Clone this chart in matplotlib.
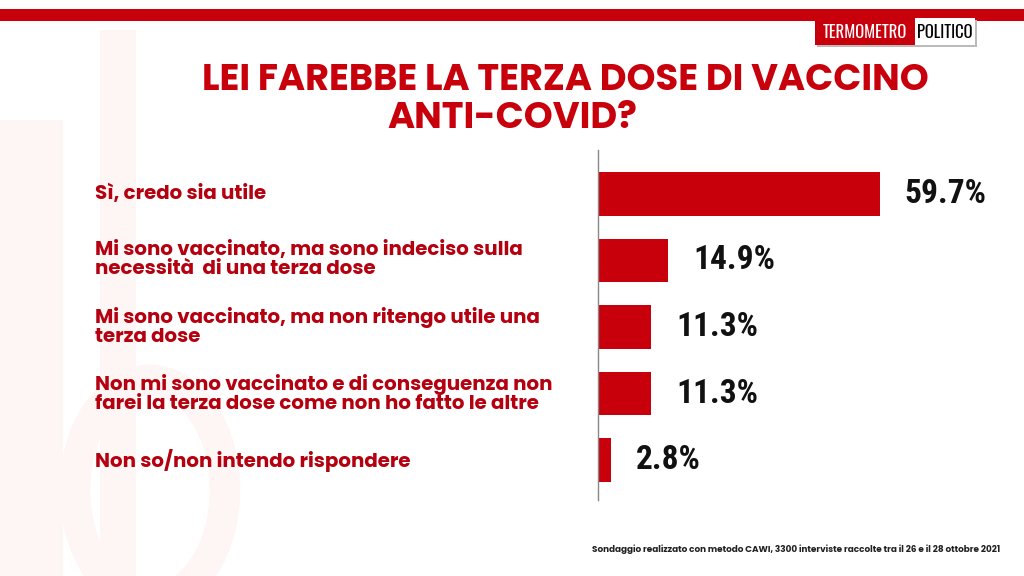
import matplotlib
matplotlib.use('Agg')
import matplotlib.pyplot as plt
from matplotlib.patches import Rectangle, Ellipse
from matplotlib.transforms import blended_transform_factory

RED = '#C8000C'
DARK_RED = '#B5000F'
MAIN = ['Poppins', 'Open Sans', 'DejaVu Sans']
NARROW = ['Roboto Condensed', 'Archivo Narrow', 'Asap Condensed', 'DejaVu Sans']
LOGO = ['Oswald', 'Bebas Neue', 'Roboto Condensed', 'DejaVu Sans']

categories = [
    'Sì, credo sia utile',
    'Mi sono vaccinato, ma sono indeciso sulla\nnecessità  di una terza dose',
    'Mi sono vaccinato, ma non ritengo utile una\nterza dose',
    'Non mi sono vaccinato e di conseguenza non\nfarei la terza dose come non ho fatto le altre',
    'Non so/non intendo rispondere',
]
values = [59.7, 14.9, 11.3, 11.3, 2.8]
value_labels = ['59.7%', '14.9%', '11.3%', '11.3%', '2.8%']

title_lines = ['LEI FAREBBE LA TERZA DOSE DI VACCINO', 'ANTI-COVID?']
footer = 'Sondaggio realizzato con metodo CAWI, 3300 interviste raccolte tra il 26 e il 28 ottobre 2021'

W, H = 1024, 576
fig = plt.figure(figsize=(W / 100, H / 100), dpi=100)
fig.patch.set_facecolor('white')


def fx(px):
    return px / W


def fy(py):
    return 1 - py / H


# faint watermark shapes on the left
wm = '#FEF5F5'
fig.patches.append(Rectangle((fx(0), fy(576)), fx(63), 456 / H, transform=fig.transFigure,
                             facecolor=wm, edgecolor='none', zorder=0))
fig.patches.append(Rectangle((fx(100), fy(576)), fx(36), 546 / H, transform=fig.transFigure,
                             facecolor=wm, edgecolor='none', zorder=0))
fig.patches.append(Ellipse((fx(150), fy(490)), fx(150), 220 / H, transform=fig.transFigure,
                           facecolor='none', edgecolor=wm, linewidth=22, zorder=0))

# top red band
fig.patches.append(Rectangle((0, fy(21)), 1, 12 / H, transform=fig.transFigure,
                             facecolor=RED, edgecolor='none', zorder=1))

# logo
fig.patches.append(Rectangle((fx(817), fy(47)), fx(160), 27 / H, transform=fig.transFigure,
                             facecolor='#BBBBBB', edgecolor='none', zorder=2))
fig.patches.append(Rectangle((fx(815), fy(45)), fx(100), 27 / H, transform=fig.transFigure,
                             facecolor=RED, edgecolor='none', zorder=3))
fig.patches.append(Rectangle((fx(915), fy(45)), fx(60), 27 / H, transform=fig.transFigure,
                             facecolor='white', edgecolor='none', zorder=3))
fig.text(fx(865), fy(32), 'TERMOMETRO', color='white', fontsize=12, ha='center', va='center',
         family=LOGO, zorder=4)
fig.text(fx(945), fy(32), 'POLITICO', color='black', fontsize=12, ha='center', va='center',
         family=LOGO, zorder=4)

# title
fig.text(fx(565), fy(81), title_lines[0], color=RED, fontsize=26.5, fontweight='bold',
         family=MAIN, ha='center', va='center')
fig.text(fx(512), fy(120), title_lines[1], color=RED, fontsize=26.5, fontweight='bold',
         family=MAIN, ha='center', va='center')

# chart
ax = fig.add_axes([fx(598), fy(500), fx(402), 350 / H])
ax.set_facecolor('none')
pos = list(range(len(values)))
ax.barh(pos, values, height=0.65, color=RED, zorder=2)
ax.set_xlim(0, 402 / 4.72)
ax.set_ylim(4.60, -0.66)
for s in ['top', 'right', 'bottom']:
    ax.spines[s].set_visible(False)
ax.spines['left'].set_color('#888888')
ax.spines['left'].set_linewidth(1.0)
ax.set_xticks([])
ax.set_yticks([])

for p, v, lab in zip(pos, values, value_labels):
    ax.annotate(lab, (v, p), xytext=(25, 0), textcoords='offset pixels',
                ha='left', va='center', fontsize=24, fontweight='bold',
                family=NARROW, color='#111111')

# category labels, left-aligned at x=95, centred on the bars
bt = blended_transform_factory(fig.transFigure, ax.transData)
for p, c in zip(pos, categories):
    fig.text(fx(95), p, c, transform=bt, ha='left', va='center', color=DARK_RED,
             fontsize=14.3, fontweight='bold', family=MAIN, linespacing=1.0)

fig.text(fx(1000), fy(549), footer, ha='right', va='center', fontsize=6.4,
         fontweight='bold', family=MAIN, color='#222222')

fig.savefig('out.png', dpi=100)
